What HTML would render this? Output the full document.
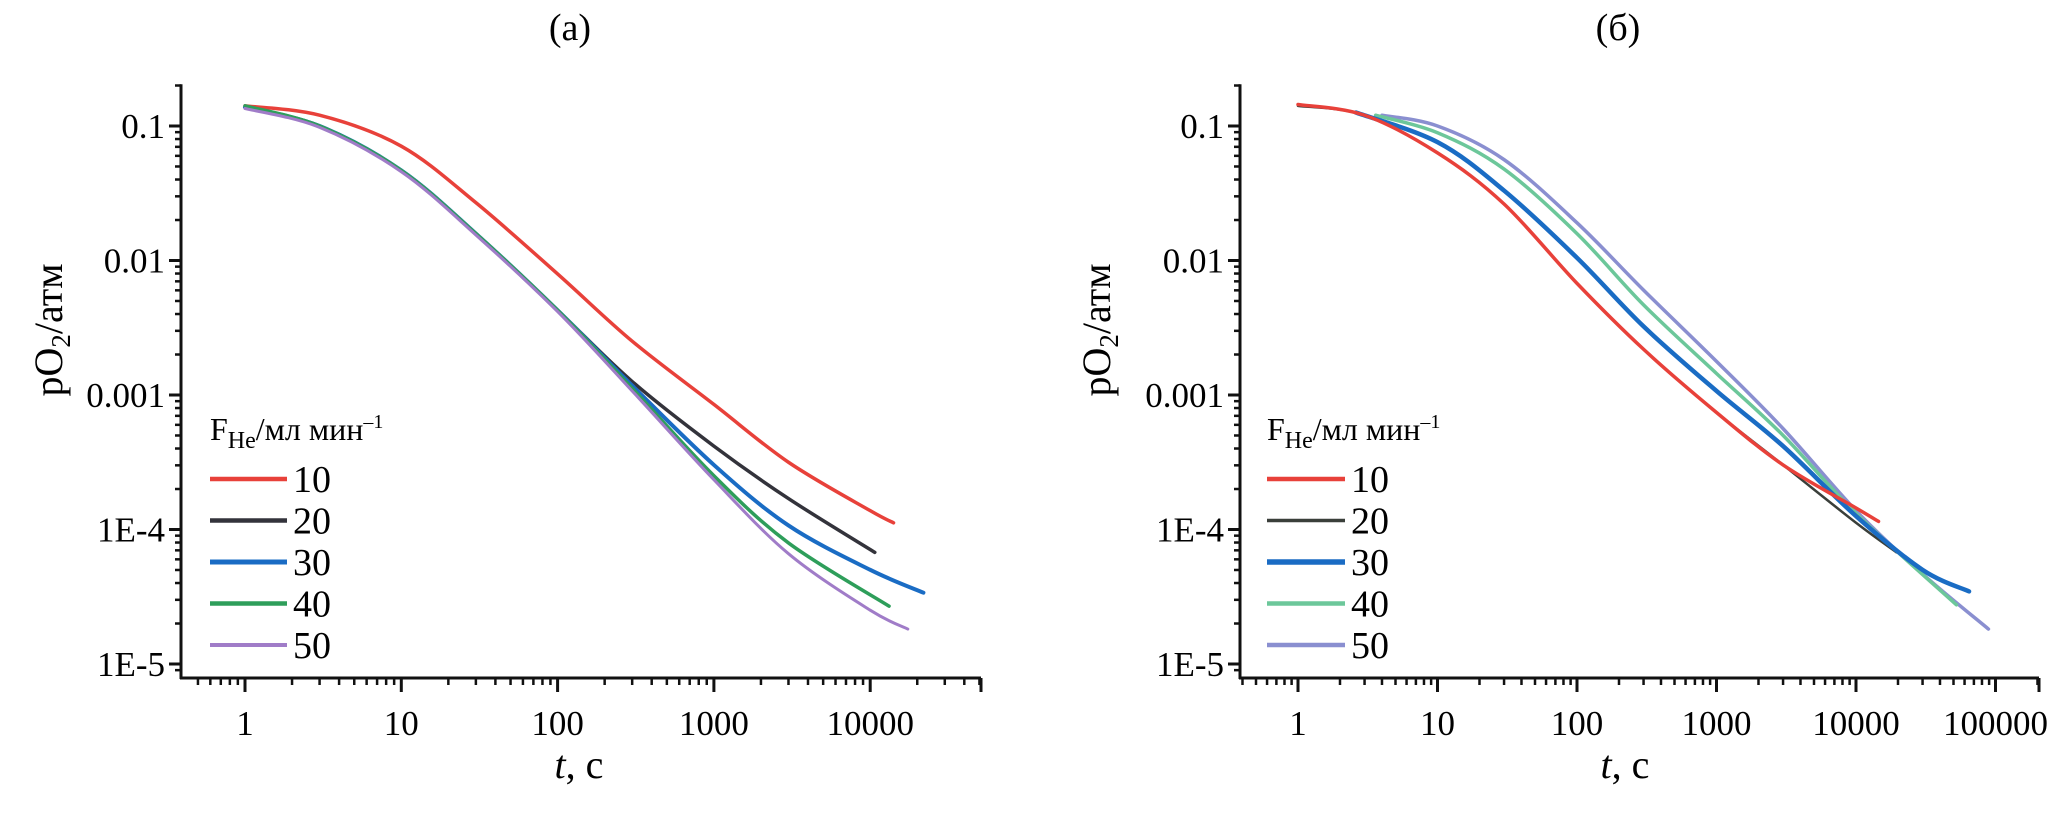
<!DOCTYPE html>
<html><head><meta charset="utf-8">
<style>
html,body{margin:0;padding:0;background:#fff;}
svg{display:block;font-family:"Liberation Serif","DejaVu Serif",serif;}
</style></head>
<body>
<svg id="chart" width="2067" height="828" viewBox="0 0 2067 828" xmlns="http://www.w3.org/2000/svg"></svg>
<script>
// ---- data (log10 of pO2 in atm) ----
const seriesLabels = ["10","20","30","40","50"];
const colorsA = ["#e8413a","#33333b","#1a6cc4","#2e9e5a","#a07cc8"];
const colorsB = ["#e8413a","#3a3f3a","#1a6cc4","#6cc79a","#8a8fd0"];
const yTicks = [0.1,0.01,0.001,1e-4,1e-5];
const yTickLabels = ["0.1","0.01","0.001","1E-4","1E-5"];
const xTicksA = [1,10,100,1000,10000];
const xTicksB = [1,10,100,1000,10000,100000];
// panel (a)
const tA10 = [1,3,10,30,100,300,1000,3000,10000,14100];
const yA10 = [-0.85,-0.92,-1.15,-1.57,-2.1,-2.6,-3.07,-3.5,-3.86,-3.95];
const tA20 = [1,3,10,30,100,300,1000,3000,10700];
const yA20 = [-0.86,-1.0,-1.33,-1.8,-2.37,-2.9,-3.38,-3.77,-4.17];
const tA30 = [1,3,10,30,100,300,1000,3000,10000,21900];
const yA30 = [-0.86,-1.0,-1.33,-1.8,-2.37,-2.93,-3.52,-3.97,-4.3,-4.47];
const tA40 = [1,3,10,30,100,300,1000,3000,13200];
const yA40 = [-0.85,-1.0,-1.33,-1.8,-2.37,-2.95,-3.6,-4.1,-4.57];
const tA50 = [1,3,10,30,100,300,1000,3000,10000,17400];
const yA50 = [-0.87,-1.01,-1.34,-1.81,-2.38,-2.97,-3.63,-4.18,-4.6,-4.74];
// panel (б)
const tB10 = [1,3,10,30,100,300,1000,3000,10000,14500];
const yB10 = [-0.84,-0.92,-1.2,-1.58,-2.17,-2.66,-3.13,-3.52,-3.84,-3.94];
const tB20 = [1,3,10,30,100,300,1000,3000,10000,19500];
const yB20 = [-0.85,-0.92,-1.2,-1.58,-2.17,-2.66,-3.13,-3.52,-3.95,-4.17];
const tB30 = [2.6,10,30,100,300,1000,3000,10000,30000,64600];
const yB30 = [-0.9,-1.12,-1.48,-1.98,-2.49,-2.97,-3.38,-3.9,-4.3,-4.46];
const tB40 = [3.6,10,30,100,300,1000,3000,10000,52500];
const yB40 = [-0.92,-1.05,-1.32,-1.8,-2.33,-2.84,-3.3,-3.88,-4.56];
const tB50 = [4,10,30,100,300,1000,3000,10000,30000,89000];
const yB50 = [-0.92,-1.0,-1.25,-1.72,-2.22,-2.75,-3.25,-3.86,-4.33,-4.74];

const NS="http://www.w3.org/2000/svg";
const svg=document.getElementById('chart');
function mk(tag,attrs,parent){const e=document.createElementNS(NS,tag);for(const k in attrs)e.setAttribute(k,attrs[k]);(parent||svg).appendChild(e);return e;}

function panel(cfg){
  const g=mk('g',{});
  
  
  const X=t=>cfg.x1+cfg.dx*Math.log10(t);
  const Y=ly=>cfg.y5+(-5-ly)*cfg.dy;
  const top=cfg.y5-cfg.dy*4.31, bottom=678;
  const ya=mk('line',{x1:cfg.ax,y1:top,x2:cfg.ax,y2:bottom+1,stroke:'#111','stroke-width':3},g);
  
  const xa=mk('line',{x1:cfg.ax-1,y1:bottom,x2:cfg.xend,y2:bottom,stroke:'#111','stroke-width':3},g);
  
  for(let d=-6;d<=0;d++){
    for(let m=1;m<10;m++){
      const ly=d+Math.log10(m); const yy=Y(ly);
      if(yy<top-1||yy>bottom-2)continue;
      const L=m===1?12:6;
      mk('line',{x1:cfg.ax-L,y1:yy,x2:cfg.ax,y2:yy,stroke:'#111','stroke-width':m===1?3:2.5},g);
    }
  }
  yTicks.forEach((v,i)=>{
    const t=mk('text',{x:cfg.ax-16,y:Y(Math.log10(v))+12,'text-anchor':'end','font-size':35},g);
    
    t.textContent=yTickLabels[i];
  });
  for(let d=-1;d<=5;d++){
    for(let m=1;m<10;m++){
      const xx=X(Math.pow(10,d)*m);
      if(xx<cfg.ax+2||xx>cfg.xend+1)continue;
      const L=m===1?14:7;
      mk('line',{x1:xx,y1:bottom,x2:xx,y2:bottom+L,stroke:'#111','stroke-width':m===1?3:2.5},g);
    }
  }
  mk('line',{x1:cfg.xend,y1:bottom,x2:cfg.xend,y2:bottom+14,stroke:'#111','stroke-width':3},g);
  cfg.xt.forEach(v=>{
    const t=mk('text',{x:X(v),y:bottom+57,'text-anchor':'middle','font-size':35},g);
    
    t.textContent=String(v);
  });
  const pt=mk('text',{x:cfg.titleX,y:40,'text-anchor':'middle','font-size':38},g);
  
  pt.textContent=cfg.title;
  const xt=mk('text',{x:cfg.xTitleX,y:778,'text-anchor':'middle','font-size':40},g);
  
  xt.innerHTML='<tspan font-style="italic">t</tspan>, с';
  const yt=mk('text',{x:0,y:0,'text-anchor':'middle','font-size':40,transform:`translate(${cfg.yTitleX},330) rotate(-90)`},g);
  
  yt.innerHTML='pO<tspan font-size="27" dy="8">2</tspan><tspan dy="-8">/атм</tspan>';
  cfg.order.forEach(i=>{
    const s=cfg.series[i];
    const pts=s.t.map((t,j)=>[X(t),Y(s.y[j])]);
    let d='M'+pts[0][0]+','+pts[0][1];
    for(let j=0;j<pts.length-1;j++){
      const p0=pts[Math.max(j-1,0)],p1=pts[j],p2=pts[j+1],p3=pts[Math.min(j+2,pts.length-1)];
      const c1=[p1[0]+(p2[0]-p0[0])/6,p1[1]+(p2[1]-p0[1])/6];
      const c2=[p2[0]-(p3[0]-p1[0])/6,p2[1]-(p3[1]-p1[1])/6];
      d+=` C${c1[0]},${c1[1]} ${c2[0]},${c2[1]} ${p2[0]},${p2[1]}`;
    }
    const p=mk('path',{d:d,fill:'none',stroke:cfg.colors[i],'stroke-width':cfg.widths[i],'stroke-linecap':'round'},g);
    
    
  });
  const lg=mk('g',{},g);
  
  const lt=mk('text',{x:cfg.legX,y:440,'font-size':32},lg);
  
  lt.innerHTML='F<tspan font-size="24" dy="8">He</tspan><tspan dy="-8">/мл мин</tspan><tspan font-size="20" dy="-12">–1</tspan>';
  seriesLabels.forEach((lab,i)=>{
    const yy=479+i*41.5;
    const ln=mk('line',{x1:cfg.legX,y1:yy,x2:cfg.legX+cfg.legW,y2:yy,stroke:cfg.colors[i],'stroke-width':cfg.widths[i]+1},lg);
    
    const tx=mk('text',{x:cfg.legX+cfg.legW+6,y:yy+13,'font-size':38},lg);
    
    tx.textContent=lab;
  });
}

panel({name:'panel-a',ax:181,x1:245,dx:156.3,xend:981,y5:664,dy:134.5,xt:xTicksA,
  title:'(a)',titleX:570,xTitleX:579,yTitleX:62,legX:210,legW:77,
  colors:colorsA,widths:[3.5,3.5,4,3.5,3],order:[0,1,2,3,4],
  series:[{t:tA10,y:yA10},{t:tA20,y:yA20},{t:tA30,y:yA30},{t:tA40,y:yA40},{t:tA50,y:yA50}]});
panel({name:'panel-b',ax:1240,x1:1298,dx:139.5,xend:2039,y5:664,dy:134.5,xt:xTicksB,
  title:'(б)',titleX:1618,xTitleX:1625,yTitleX:1110,legX:1267,legW:78,
  colors:colorsB,widths:[3.5,2.5,4.5,3.5,3.5],order:[1,4,3,2,0],
  series:[{t:tB10,y:yB10},{t:tB20,y:yB20},{t:tB30,y:yB30},{t:tB40,y:yB40},{t:tB50,y:yB50}]});
</script>
</body></html>
